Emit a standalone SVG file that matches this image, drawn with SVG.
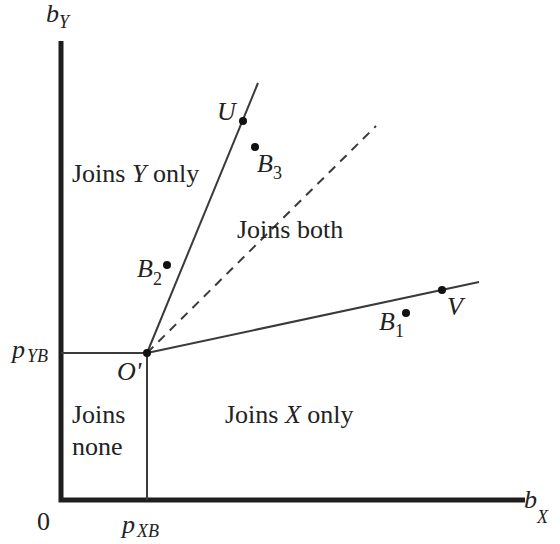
<svg xmlns="http://www.w3.org/2000/svg" width="560" height="544" viewBox="0 0 560 544" font-family="Liberation Serif, serif">
<style>
text{font-family:'Liberation Serif',serif;font-size:26px;fill:#222}
.i{font-style:italic}
.s{font-size:18px}
.ln{stroke:#3a3a3a;stroke-width:2;fill:none}
.ax{stroke:#1e1e1e;stroke-width:5;fill:none}
.dot{fill:#111}
</style>
<rect width="560" height="544" fill="#fff"/>
<g id="connectors">
<path class="ax" d="M61,41 V500 H525"/>
<path class="ln" d="M61,353 H147 V500"/>
<path class="ln" d="M147,353 L258,83"/>
<path class="ln" d="M147,353 L479,282"/>
<path class="ln" d="M147,353 L376,126" stroke-dasharray="9,7"/>
</g>
<g id="axis-labels">
<text x="46" y="22" class="i">b<tspan class="s" dy="6">Y</tspan></text>
<text x="524" y="508" class="i">b<tspan class="s" dy="15">X</tspan></text>
<text x="37" y="530">0</text>
<text x="12" y="358" class="i">p<tspan class="s" dx="2" dy="4">YB</tspan></text>
<text x="122" y="533" class="i">p<tspan class="s" dx="2" dy="4">XB</tspan></text>
</g>
<g id="regions">
<text x="72" y="182">Joins <tspan class="i">Y</tspan> only</text>
<text x="237" y="238">Joins both</text>
<text x="72" y="423">Joins</text>
<text x="72" y="455">none</text>
<text x="225" y="423">Joins <tspan class="i">X</tspan> only</text>
</g>
<g id="O-prime"><circle class="dot" cx="147" cy="353" r="4"/><text x="117" y="380" class="i">O'</text></g>
<g id="U"><circle class="dot" cx="243" cy="121" r="4"/><text x="217" y="120" class="i">U</text></g>
<g id="V"><circle class="dot" cx="442" cy="290" r="4"/><text x="447" y="315" class="i">V</text></g>
<g id="B1"><circle class="dot" cx="406" cy="313" r="4"/><text x="379" y="330" class="i">B<tspan class="s" font-style="normal" dy="7">1</tspan></text></g>
<g id="B2"><circle class="dot" cx="167" cy="265" r="4"/><text x="137" y="277" class="i">B<tspan class="s" font-style="normal" dy="8">2</tspan></text></g>
<g id="B3"><circle class="dot" cx="255" cy="147" r="4"/><text x="257" y="172" class="i">B<tspan class="s" font-style="normal" dy="7">3</tspan></text></g>
</svg>
